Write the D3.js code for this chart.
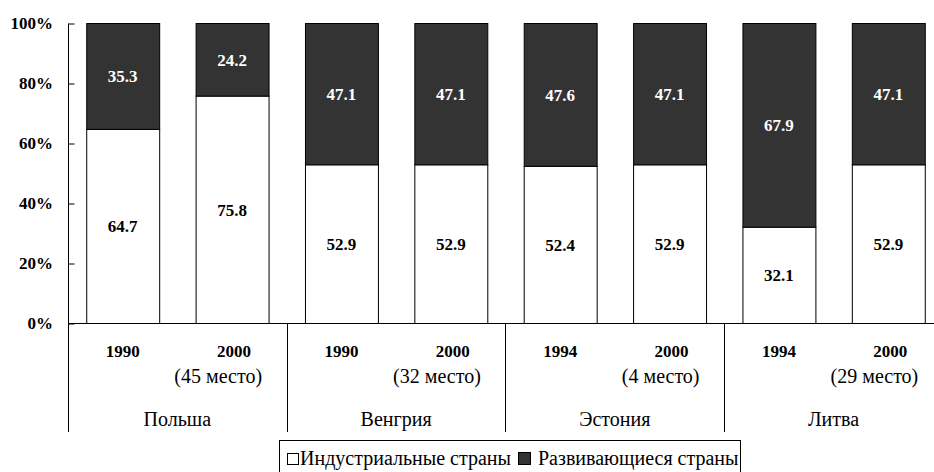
<!DOCTYPE html>
<html>
<head>
<meta charset="utf-8">
<script src="https://cdn.jsdelivr.net/npm/d3@7"></script>
<style>
  body { margin: 0; background: #fff; }
</style>
</head>
<body>
<div id="chart"></div>
<script>
// chart values
const years = ['1990', '2000', '1990', '2000', '1994', '2000', '1994', '2000']
const places = ['', '(45 место)', '', '(32 место)', '', '(4 место)', '', '(29 место)']
const countries = ['Польша', 'Венгрия', 'Эстония', 'Литва']
const industrial = [64.7, 75.8, 52.9, 52.9, 52.4, 52.9, 32.1, 52.9]
const developing = [35.3, 24.2, 47.1, 47.1, 47.6, 47.1, 67.9, 47.1]
const yTicks = [0, 20, 40, 60, 80, 100]
const legendLabels = ['Индустриальные страны', 'Развивающиеся страны']

const FONT = '"Liberation Serif", "Times New Roman", serif'
const width = 934
const height = 472
const margin = { top: 23.5, left: 68, bottom: 323.5 }

const svg = d3.select('#chart')
    .append('svg')
    .attr('width', width)
    .attr('height', height)
    .attr('font-family', FONT)
    .style('font-family', FONT)
    .style('display', 'block')

const xScale = d3.scaleBand()
    .domain(d3.range(years.length))
    .range([margin.left, margin.left + 875])
    .paddingInner(0.333)
    .paddingOuter(0.1667)

const yScale = d3.scaleLinear()
    .domain([0, 100])
    .range([margin.bottom, margin.top])

// stacked bars: white bottom, dark top
const bars = svg.append('g')
years.forEach((y, i) => {
    const x = xScale(i)
    const bw = xScale.bandwidth()
    bars.append('rect')
        .attr('x', x + 0.5)
        .attr('y', yScale(industrial[i]))
        .attr('width', bw)
        .attr('height', yScale(0) - yScale(industrial[i]))
        .attr('fill', '#fff')
        .attr('stroke', '#000')
    bars.append('rect')
        .attr('x', x + 0.5)
        .attr('y', yScale(100))
        .attr('width', bw)
        .attr('height', yScale(industrial[i]) - yScale(100))
        .attr('fill', '#333333')
        .attr('stroke', '#000')

    bars.append('text')
        .attr('x', x + bw / 2)
        .attr('y', (yScale(0) + yScale(industrial[i])) / 2)
        .attr('dy', '0.35em')
        .attr('text-anchor', 'middle')
        .attr('font-size', '17px')
        .attr('font-weight', 'bold')
        .attr('fill', '#000')
        .text(industrial[i].toFixed(1))
    bars.append('text')
        .attr('x', x + bw / 2)
        .attr('y', (yScale(100) + yScale(industrial[i])) / 2)
        .attr('dy', '0.35em')
        .attr('text-anchor', 'middle')
        .attr('font-size', '17px')
        .attr('font-weight', 'bold')
        .attr('fill', '#fff')
        .text(developing[i].toFixed(1))
})

// y axis, ticks pointing inward
const yAxis = svg.append('g')
    .attr('transform', `translate(${margin.left + 0.5}, 0)`)
    .call(d3.axisRight(yScale).tickValues(yTicks).tickSize(6).tickFormat(''))
yAxis.select('.domain').remove()
svg.append('line')
    .attr('x1', margin.left + 0.5).attr('x2', margin.left + 0.5)
    .attr('y1', margin.top).attr('y2', 432)
    .attr('stroke', '#000')

svg.append('g')
    .selectAll('text')
    .data(yTicks)
    .enter()
    .append('text')
    .attr('x', 53)
    .attr('y', d => yScale(d))
    .attr('dy', '0.35em')
    .attr('text-anchor', 'end')
    .attr('font-size', '17px')
    .attr('font-weight', 'bold')
    .text(d => d + '%')

// x axis line
svg.append('line')
    .attr('x1', margin.left).attr('x2', width)
    .attr('y1', margin.bottom).attr('y2', margin.bottom)
    .attr('stroke', '#000')

// group separators and country names
const step = xScale.step()
countries.forEach((c, g) => {
    const x0 = margin.left + g * 2 * step
    if (g > 0) {
        svg.append('line')
            .attr('x1', Math.round(x0) + 0.5).attr('x2', Math.round(x0) + 0.5)
            .attr('y1', margin.bottom).attr('y2', 432)
            .attr('stroke', '#000')
    }
    svg.append('text')
        .attr('x', x0 + step)
        .attr('y', 426)
        .attr('text-anchor', 'middle')
        .attr('font-size', '20px')
        .text(c)
})

// category labels
years.forEach((y, i) => {
    const cx = xScale(i) + xScale.bandwidth() / 2
    svg.append('text')
        .attr('x', cx + (places[i] ? 2 : 0))
        .attr('y', 357)
        .attr('text-anchor', 'middle')
        .attr('font-size', '17px')
        .attr('font-weight', 'bold')
        .text(y)
    if (places[i]) {
        svg.append('text')
            .attr('x', cx + 30)
            .attr('y', 383)
            .attr('text-anchor', 'end')
            .attr('font-size', '20px')
            .text(places[i])
    }
})

// legend
const legend = svg.append('g')
legend.append('rect')
    .attr('x', 279.5).attr('y', 440.5)
    .attr('width', 461).attr('height', 50)
    .attr('fill', '#fff')
    .attr('stroke', '#000')
legend.append('rect')
    .attr('x', 287.5).attr('y', 453.5)
    .attr('width', 11).attr('height', 11)
    .attr('fill', '#fff')
    .attr('stroke', '#000')
legend.append('text')
    .attr('x', 300).attr('y', 465)
    .attr('font-size', '20px')
    .text(legendLabels[0])
legend.append('rect')
    .attr('x', 518.5).attr('y', 452.5)
    .attr('width', 12).attr('height', 12)
    .attr('fill', '#333333')
    .attr('stroke', '#000')
legend.append('text')
    .attr('x', 538).attr('y', 465)
    .attr('font-size', '20px')
    .text(legendLabels[1])
</script>
</body>
</html>
